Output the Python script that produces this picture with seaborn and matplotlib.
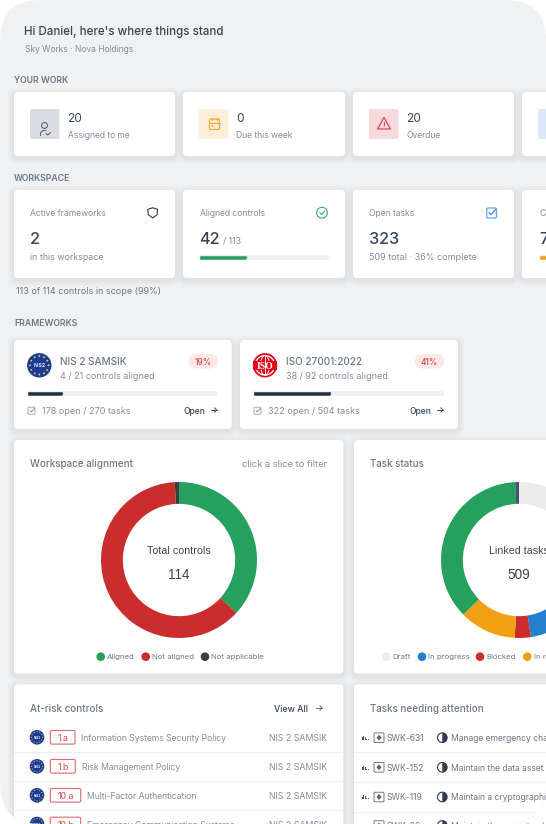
"""
Compliance dashboard screenshot rebuilt with seaborn / matplotlib
"""

import numpy as np
import matplotlib.pyplot as plt
import seaborn as sns
from matplotlib.patches import FancyBboxPatch, Circle, Wedge, Polygon, Rectangle, Ellipse

W, H = 546, 824

# Values
work_counts = ["20", "0", "20"]
work_labels = ["Assigned to me", "Due this week", "Overdue"]

aligned_count = 42
in_scope_count = 113
other_progress = 0.30

framework_names = ["NIS 2 SAMSIK", "ISO 27001:2022"]
framework_aligned = [4, 38]
framework_total = [21, 92]
framework_open = [178, 322]
framework_tasks = [270, 504]
framework_pct = [19, 41]

align_labels = ["Aligned", "Not aligned", "Not applicable"]
align_values = [42, 71, 1]
align_colors = ["#26a05d", "#cb2c2c", "#3d3d3f"]

task_labels = ["Draft", "In progress", "Blocked", "In review"]
task_values = [120, 122, 17, 60, 186, 4]
task_colors = ["#ececec", "#2280cf", "#cb2c2c", "#f0a012", "#26a05d", "#44546a"]

risk_tags = ["1.a", "1.b", "10.a", "10.b"]
risk_names = ["Information Systems Security Policy", "Risk Management Policy",
              "Multi-Factor Authentication", "Emergency Communication Systems"]

task_ids = ["SWK-631", "SWK-152", "SWK-119", "SWK-86"]
task_names = ["Manage emergency changes", "Maintain the data asset inventory",
              "Maintain a cryptographic policy", "Maintain the security plan"]

# Colours
BG = "#f0f1f3"
DARK = "#36465a"
MID = "#6c7887"
LIGHT = "#838d9a"
TRACK = "#eff0f2"

sns.set_theme(style="white")
plt.rcParams["font.family"] = ["Inter", "DejaVu Sans"]

fig = plt.figure(figsize=(W / 100, H / 100), dpi=100, facecolor="white")
ax = fig.add_axes([0, 0, 1, 1])
ax.set_xlim(0, W)
ax.set_ylim(H, 0)
ax.axis("off")
ax.patch.set_alpha(0)


def px(size):
    return size * 0.72


def rbox(x0, y0, x1, y1, r, **kw):
    p = FancyBboxPatch((x0 + r, y0 + r), x1 - x0 - 2 * r, y1 - y0 - 2 * r,
                       boxstyle=f"round,pad={r},rounding_size={r}", **kw)
    ax.add_patch(p)
    return p


def card(x0, y0, x1, y1):
    for grow, alpha in [(6, 0.018), (4, 0.026), (2, 0.036)]:
        rbox(x0 - grow, y0 - grow + 2, x1 + grow, y1 + grow + 2, 4 + grow,
             fc="#3a4656", ec="none", alpha=alpha)
    rbox(x0, y0, x1, y1, 4, fc="white", ec="none")


def txt(x, y, s, size, color=MID, ha="left", **kw):
    return ax.text(x, y, s, fontsize=px(size), color=color, ha=ha,
                   va="center_baseline", **kw)


def stroke(xs, ys, color, lw=1.0, **kw):
    ax.plot(xs, ys, color=color, lw=lw, solid_capstyle="round",
            solid_joinstyle="round", **kw)


def arrow(x, y, color=DARK):
    stroke([x - 3, x + 3], [y, y], color, 0.7)
    stroke([x + 0.8, x + 3, x + 0.8], [y - 2.2, y, y + 2.2], color, 0.7)


def progress(x0, y0, x1, y1, frac, color):
    """Track on the page plus a seaborn bar on a small axes laid over it."""
    rbox(x0, y0, x1, y1, (y1 - y0) / 2, fc=TRACK, ec="none")
    sub = fig.add_axes([x0 / W, 1 - y1 / H, (x1 - x0) / W, (y1 - y0) / H])
    sns.barplot(x=[frac], y=["v"], orient="h", color=color, width=1,
                saturation=1, ax=sub)
    sub.set_xlim(0, 1)
    sub.set_ylim(0.5, -0.5)
    sub.axis("off")
    sub.patch.set_alpha(0)
    pad = (y1 - y0) / 2
    clip = FancyBboxPatch((x0 + pad, y0 + pad), (x1 - x0) * frac - 2 * pad, 0,
                          boxstyle=f"round,pad={pad},rounding_size={pad}",
                          transform=ax.transData, fc="none", ec="none")
    ax.add_patch(clip)
    for bar in sub.patches:
        bar.set_clip_path(clip)


def donut(cx, cy, values, colors):
    r = 78
    sub = fig.add_axes([(cx - r) / W, 1 - (cy + r) / H, 2 * r / W, 2 * r / H])
    sub.pie(values, colors=colors, startangle=90, counterclock=False,
            wedgeprops=dict(width=0.28, linewidth=0))
    sub.set_xlim(-1, 1)
    sub.set_ylim(-1, 1)
    sub.patch.set_alpha(0)


def nis_logo(cx, cy, r):
    ax.add_patch(Circle((cx, cy), r, fc="#1c3c96", ec="none"))
    for a in np.arange(0, 360, 30):
        ax.add_patch(Circle((cx + 0.76 * r * np.cos(np.radians(a)),
                             cy + 0.76 * r * np.sin(np.radians(a))),
                            r * 0.075, fc="#f4cf30", ec="none"))
    txt(cx, cy, "NIS2", r * 0.42, "#e8ecf6", ha="center", fontweight="bold")


def iso_logo(cx, cy, r):
    ax.add_patch(Circle((cx, cy), r, fc="#e2061c", ec="none"))
    ax.add_patch(Circle((cx, cy), r * 0.8, fc="none", ec="white", lw=0.9))
    ax.add_patch(Ellipse((cx, cy), r * 0.75, r * 1.6, fc="none", ec="white", lw=0.6))
    ax.plot([cx, cx], [cy - r * 0.8, cy + r * 0.8], color="white", lw=0.6)
    ax.add_patch(Rectangle((cx - r * 0.95, cy - r * 0.36), r * 1.9, r * 0.72,
                           fc="#e2061c", ec="none"))
    ax.text(cx, cy, "ISO", fontsize=px(r * 0.8), color="white", ha="center",
            va="center_baseline", fontweight="bold", family="Liberation Serif")


def small_check(x, y):
    rbox(x - 3.5, y - 3.5, x + 3.5, y + 3.5, 1, fc="none", ec="#98a1ac", lw=0.6)
    stroke([x - 1.5, x - 0.3, x + 3.2], [y, y + 1.2, y - 2.2], "#7d8793", 0.6)


# Page
page = rbox(0, 0, W, H, 40, fc=BG, ec="none")

txt(24.5, 30.5, "Hi Daniel, here's where things stand", 11.6, DARK, fontweight="medium")
txt(25, 48.7, "Sky Works · Nova Holdings", 8.5, LIGHT)

for y, s in [(79, "YOUR WORK"), (177, "WORKSPACE"), (322, "FRAMEWORKS")]:
    txt(14, y, s, 8.7, MID, fontweight="semibold")

# Your work row
col_x = [14, 183, 353, 522]
col_w = [161, 162, 161, 161]
for x, w in zip(col_x, col_w):
    card(x, 92, x + w, 156)

icon_fill = ["#d9dde1", "#fcefd8", "#f6dadd", "#dce9f6"]
for x, c in zip(col_x, icon_fill):
    rbox(x + 16, 109, x + 45.5, 139, 2, fc=c, ec="none")
for x, n, s in zip(col_x, work_counts, work_labels):
    txt(x + 53.5, 117.5, n, 12, DARK)
    txt(x + 53.5, 134, s, 8.5, LIGHT)

# person with a tick
ax.add_patch(Circle((44.5, 125.5), 2.9, fc="none", ec="#5d6875", lw=0.8))
stroke([40.5, 40.7, 43, 46], [135.5, 132.5, 130.5, 130.5], "#5d6875", 0.8)
stroke([46, 47.6, 50.5], [133.5, 135, 132.5], "#5d6875", 0.8)
# calendar
rbox(209.5, 119, 219.5, 129.5, 1.2, fc="none", ec="#f5a623", lw=0.8)
stroke([209.5, 219.5], [122.5, 122.5], "#f5a623", 0.8)
stroke([212, 212], [117.5, 120], "#f5a623", 0.8)
stroke([217, 217], [117.5, 120], "#f5a623", 0.8)
ax.add_patch(Circle((212.5, 126), 1, fc="#f5a623", ec="none"))
# warning triangle
ax.add_patch(Polygon([[384, 117.5], [390.5, 129], [377.5, 129]], closed=True,
                     fc="none", ec="#dc4a50", lw=0.9, joinstyle="round"))
stroke([384, 384], [121.5, 125], "#dc4a50", 0.9)
ax.add_patch(Circle((384, 127), 0.4, fc="#dc4a50", ec="none"))

# Workspace row
for x, w in zip(col_x, col_w):
    card(x, 190, x + w, 278)

txt(30, 212.7, "Active frameworks", 8.6, LIGHT)
txt(30, 237.5, "2", 16.2, DARK, fontweight="medium")
txt(30, 257, "in this workspace", 8.9, LIGHT)

txt(199.5, 212.7, "Aligned controls", 8.6, LIGHT)
txt(199.5, 237.5, str(aligned_count), 16.2, DARK, fontweight="medium")
txt(223, 240.5, f"/ {in_scope_count}", 8.8, LIGHT)
progress(199, 255.4, 329, 259.9, aligned_count / in_scope_count, "#26a05d")

txt(369, 212.7, "Open tasks", 8.6, LIGHT)
txt(369, 237.5, "323", 16.2, DARK, fontweight="medium")
txt(369, 257, "509 total · 36% complete", 9, LIGHT)

txt(539, 212.7, "Coverage", 8.6, LIGHT)
txt(539, 237.5, "72", 16.2, DARK, fontweight="medium")
progress(539, 255.4, 669, 259.9, other_progress, "#f0a012")

txt(16.5, 290, "113 of 114 controls in scope (99%)", 9, MID)

# shield
ax.add_patch(Polygon([[147.8, 209.3], [152.7, 207.8], [157.5, 209.3], [157.2, 214.5],
                      [152.7, 218], [148.2, 214.5]], closed=True, fc="none",
                     ec="#2f3a48", lw=0.8, joinstyle="round"))
# circle check
ax.add_patch(Circle((322, 212.7), 5.4, fc="none", ec="#39a96c", lw=0.8))
stroke([319.8, 321.5, 324.5], [212.8, 214.5, 211], "#39a96c", 0.8)
# blue checkbox
rbox(486.7, 208, 496.5, 218, 1.5, fc="none", ec="#5ba5e2", lw=0.9)
stroke([489, 491, 495.5], [212.5, 214.7, 209.5], "#2f87d6", 0.9)

# Framework cards
fw_x = [14, 240]
fw_x1 = [231.7, 458]
for i, (x0, x1) in enumerate(zip(fw_x, fw_x1)):
    card(x0, 340, x1, 429)
    name_x = x0 + 46
    txt(name_x, 361, framework_names[i], 10, MID, fontweight="medium")
    txt(name_x, 375, f"{framework_aligned[i]} / {framework_total[i]} controls aligned", 9, LIGHT)
    rbox(x1 - 43, 354, x1 - 14, 368.5, 7, fc="#fde8e8", ec="none")
    txt(x1 - 28.5, 361.3, f"{framework_pct[i]}%", 8.3, "#d9474d", ha="center", fontweight="medium")
    progress(x0 + 13, 391.1, x1 - 14, 395.9, framework_pct[i] / 100, "#1f3044")
    small_check(x0 + 17.5, 410.7)
    txt(x0 + 27.7, 410.2, f"{framework_open[i]} open / {framework_tasks[i]} tasks", 9.1, LIGHT)
    txt(x1 - 48, 410.2, "Open", 8.5, DARK, fontweight="medium")
    arrow(x1 - 18, 410)

nis_logo(39.3, 365.3, 12.2)
iso_logo(265, 365.3, 12.2)

# Donut cards
card(14, 440, 343.3, 673.5)
card(354, 440, 690, 673.5)

txt(30, 463, "Workspace alignment", 9.8, MID, fontweight="medium")
txt(327, 463, "click a slice to filter", 9.3, LIGHT, ha="right")
txt(370.5, 463, "Task status", 9.8, MID, fontweight="medium")

donut(179, 560, align_values, align_colors)
donut(519, 560, task_values, task_colors)

for cx, label, total in [(179, "Total controls", sum(align_values)),
                         (519, "Linked tasks", sum(task_values))]:
    ax.text(cx, 549.7, label, fontsize=px(10.6), color="#444", ha="center",
            va="center_baseline", family="Liberation Sans")
    ax.text(cx, 573.3, str(total), fontsize=px(13.6), color="#444", ha="center",
            va="center_baseline", family="Liberation Sans")

for x, label, color in zip([100.7, 145.7, 205], align_labels, align_colors):
    ax.add_patch(Circle((x, 656.7), 4.3, fc=color, ec="none"))
    txt(x + 6, 656.5, label, 7.8, MID)
for x, label, color in zip([386.3, 422, 480, 527.3], task_labels,
                           ["#ececec", "#2280cf", "#cb2c2c", "#f0a012"]):
    ax.add_patch(Circle((x, 656.7), 4.3, fc=color, ec="none"))
    txt(x + 6.3, 656.5, label, 7.8, MID)

# Bottom cards run past the lower edge
card(14, 684.3, 343.3, 860)
card(354, 684.3, 690, 860)

txt(30, 708, "At-risk controls", 9.8, MID, fontweight="medium")
txt(274, 708, "View All", 8.8, DARK, fontweight="medium")
arrow(319, 708, "#5d6875")
txt(370.5, 708, "Tasks needing attention", 9.8, MID, fontweight="medium")

risk_y = [737.3, 766.3, 795.3, 824]
tag_x1 = [75, 75.3, 80.7, 80.7]
name_x = [80.7, 81.7, 86.7, 86.7]
for i, y in enumerate(risk_y):
    nis_logo(37, y, 7.3)
    rbox(50.3, y - 6.8, tag_x1[i], y + 6.8, 1.5, fc="white", ec="#e06a6e", lw=0.8)
    txt((50.3 + tag_x1[i]) / 2, y + 0.3, risk_tags[i], 8.8, "#d9474d", ha="center")
    txt(name_x[i], y + 0.3, risk_names[i], 8.6, LIGHT)
    txt(327, y + 0.3, "NIS 2 SAMSIK", 8.8, LIGHT, ha="right")
    if i < 3:
        ax.plot([14, 343.3], [y + 14.5, y + 14.5], color="#eef0f2", lw=0.9)

task_y = [737.7, 767.3, 797, 825.5]
sep_end = [560, 560, 535]
for i, y in enumerate(task_y):
    # signal bars
    for k, h in enumerate([2.5, 4, 3, 1, 1]):
        ax.add_patch(Rectangle((362 + k * 1.4, y + 2.2 - h), 0.9, h, fc="#4e5a68", ec="none"))
    rbox(374, y - 4.8, 384, y + 4.8, 0.8, fc="none", ec="#5d6875", lw=0.6)
    ax.add_patch(Polygon([[379, y - 3], [381.5, y], [379, y + 3], [376.5, y]],
                         fc="#5d6875", ec="none"))
    txt(386.7, y, task_ids[i], 8.6, MID)
    ax.add_patch(Circle((442.3, y), 4.8, fc="white", ec="#2f3a48", lw=0.8))
    ax.add_patch(Wedge((442.3, y), 4.8, -90, 90, fc="#2f3a48", ec="none"))
    txt(451.3, y, task_names[i], 8.6, MID)
    if i < 3:
        ax.plot([354, sep_end[i]], [y + 14.7, y + 14.7], color="#eef0f2", lw=0.9)

# White screen corners over everything that spills past the rounded page
for card_patch in ax.patches:
    card_patch.set_clip_path(page)

fig.savefig("out.png", dpi=100, facecolor="white")
